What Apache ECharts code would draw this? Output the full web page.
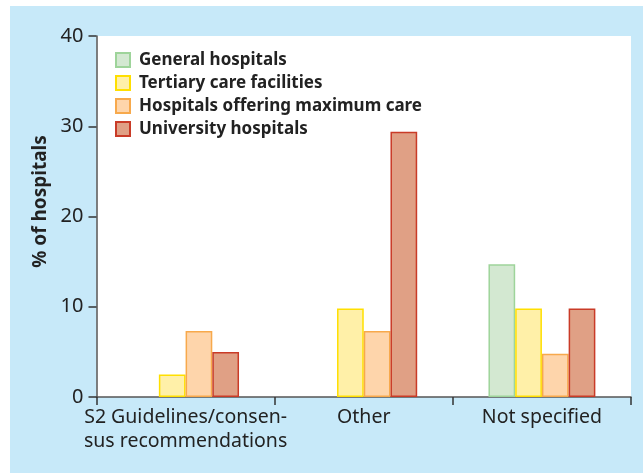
<!DOCTYPE html>
<html><head><meta charset="utf-8">
<script src="https://cdn.jsdelivr.net/npm/echarts@6/dist/echarts.min.js"></script>
<style>html,body{margin:0;padding:0;background:#fff}#c{width:643px;height:473px}</style>
</head><body><div id="c"></div>
<script>
const categories = ["S2 Guidelines/consen-\nsus recommendations", "Other", "Not specified"];
const seriesNames = ["General hospitals", "Tertiary care facilities", "Hospitals offering maximum care", "University hospitals"];
const generalHospitals = [null, null, 14.7];
const tertiaryCare = [2.5, 9.8, 9.8];
const maximumCare = [7.3, 7.3, 4.8];
const universityHospitals = [5.0, 29.4, 9.8];
const yTicks = [0, 10, 20, 30, 40];

const fills = ["#d3e8d1", "#fff0a8", "#fed5ab", "#e0a085"];
const borders = ["#9ed49a", "#ffdf00", "#f7a94c", "#c93b27"];
const values = [generalHospitals, tertiaryCare, maximumCare, universityHospitals];

const chart = echarts.init(document.getElementById('c'), null, {renderer: 'canvas'});
const font = '"Noto Sans", "Open Sans", sans-serif';
chart.setOption({
  animation: false,
  textStyle: {fontFamily: font},
  graphic: [{type: 'rect', left: 10, top: 6, z: -10, shape: {width: 633, height: 467}, style: {fill: '#c7e9f9'}}],
  grid: {left: 96.5, right: 12, top: 36, bottom: 76, show: true, backgroundColor: '#ffffff', borderWidth: 0},
  legend: {
    orient: 'vertical', left: 115, top: 51.5, padding: 0, itemWidth: 14, itemHeight: 14, itemGap: 6,
    icon: 'rect', data: seriesNames,
    textStyle: {fontFamily: font, fontSize: 17, fontWeight: 'bold', color: '#222', lineHeight: 14, padding: [0,0,0,4]}
  },
  xAxis: {
    type: 'category', data: categories,
    axisLine: {lineStyle: {color: '#555', width: 1.5}},
    axisTick: {show: true, length: 8, lineStyle: {color: '#333', width: 1.5}},
    axisLabel: {interval: 0, color: '#222', fontSize: 19.5, lineHeight: 24, margin: 8, fontFamily: font}
  },
  yAxis: {
    type: 'value', min: yTicks[0], max: yTicks[yTicks.length-1], interval: 10,
    name: '% of hospitals', nameLocation: 'middle', nameGap: 46, nameRotate: 90,
    nameTextStyle: {fontSize: 19, fontWeight: 'bold', color: '#222', fontFamily: font, padding: [0, 0, 0, 30]},
    axisLine: {show: true, lineStyle: {color: '#555', width: 1.5}},
    axisTick: {show: true, length: 8, lineStyle: {color: '#333', width: 1.5}},
    axisLabel: {color: '#222', fontSize: 20, margin: 13, fontFamily: font},
    splitLine: {show: false}
  },
  series: seriesNames.map((n, i) => ({
    name: n, type: 'bar', data: values[i], barGap: 0, barCategoryGap: '40%',
    itemStyle: {color: fills[i], borderColor: borders[i], borderWidth: 1.5}
  }))
});
</script></body></html>
